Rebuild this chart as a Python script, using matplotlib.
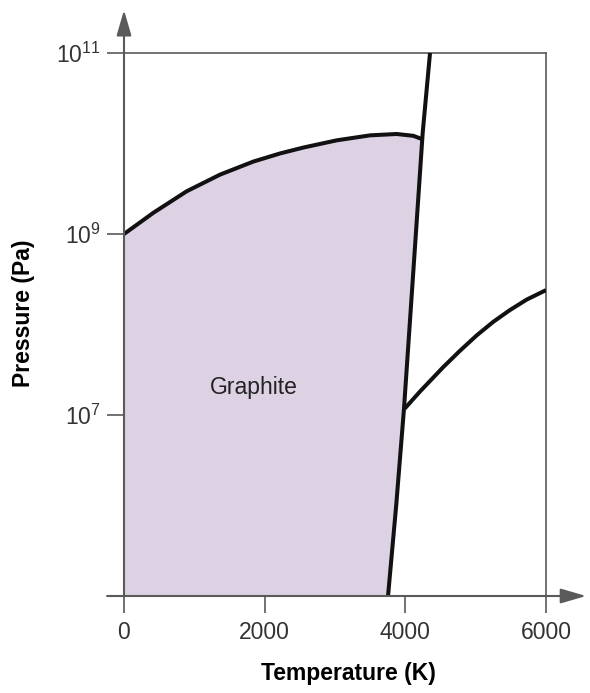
import numpy as np
import matplotlib.pyplot as plt

plt.rcParams['font.family'] = ['Liberation Sans', 'DejaVu Sans']
plt.rcParams['mathtext.fontset'] = 'custom'
plt.rcParams['mathtext.rm'] = 'Liberation Sans'
plt.rcParams['mathtext.it'] = 'Liberation Sans'

# graphite / diamond boundary (log10 of Pa)
gd_temp = [0, 417, 891, 1365, 1838, 2218, 2549, 3024, 3498, 3877, 4113, 4233]
gd_logp = [9.0, 9.234, 9.472, 9.656, 9.80, 9.89, 9.955, 10.035, 10.09, 10.105, 10.085, 10.05]

# solid / liquid boundary
melt_temp = [3754, 3870, 3981, 4113, 4247, 4351]
melt_logp = [5.0, 6.0, 7.07, 8.58, 10.12, 11.0]

# liquid / vapour boundary
lv_temp = [3990, 4209, 4540, 4777, 5015, 5251, 5488, 5725, 6000]
lv_logp = [7.07, 7.26, 7.53, 7.71, 7.88, 8.03, 8.16, 8.275, 8.38]

x_ticks = [0, 2000, 4000, 6000]
y_ticks = [7, 9, 11]
region_label = "Graphite"
label_pos = (1840, 10 ** 7.305)

axis_grey = '#5a5a5a'
fill_col = '#dcd2e4'

fig = plt.figure(figsize=(5.9, 6.93), dpi=100)
ax = fig.add_axes([124 / 590, 97 / 693, 422 / 590, 543 / 693])
ax.set_yscale('log')
ax.set_xlim(0, 6000)
ax.set_ylim(1e5, 1e11)

gd_p = 10 ** np.array(gd_logp)
melt_p = 10 ** np.array(melt_logp)
lv_p = 10 ** np.array(lv_logp)

# filled graphite region: y axis -> upper curve -> melting line -> bottom
upper_idx = [i for i, p in enumerate(melt_logp) if p < gd_logp[-1]]
fill_t = [0] + gd_temp + [melt_temp[i] for i in reversed(upper_idx)]
fill_p = [1e5] + list(gd_p) + [melt_p[i] for i in reversed(upper_idx)]
ax.fill(fill_t, fill_p, color=fill_col, lw=0, zorder=1)

line_kw = dict(color='#111111', lw=2.9, solid_capstyle='butt',
               solid_joinstyle='round', zorder=3)
ax.plot(gd_temp, gd_p, **line_kw)
ax.plot(melt_temp, melt_p, clip_on=False, **line_kw)
ax.plot(lv_temp, lv_p, **line_kw)

ax.text(label_pos[0], label_pos[1], region_label, ha='center', va='center',
        fontsize=16.5, color='#222222')

# frame: grey top / right lines, arrowed left / bottom axes
for side in ['top', 'right']:
    ax.spines[side].set_color(axis_grey)
    ax.spines[side].set_linewidth(1.2)
for side in ['left', 'bottom']:
    ax.spines[side].set_visible(False)

arrow = dict(arrowstyle='-|>,head_length=1.2,head_width=0.35', color=axis_grey,
             lw=1.5, mutation_scale=13, shrinkA=0, shrinkB=0)
ax.annotate('', xy=(0, 1.079), xytext=(0, -0.0015), xycoords='axes fraction',
            arrowprops=arrow)
ax.annotate('', xy=(1.095, 0), xytext=(-0.04, 0), xycoords='axes fraction',
            arrowprops=arrow)

ax.set_xticks(x_ticks)
ax.set_xticklabels([str(t) for t in x_ticks])
ax.set_yticks([10.0 ** e for e in y_ticks])
ax.set_yticklabels([r'$\mathregular{10^{%d}}$' % e for e in y_ticks])
ax.minorticks_off()
ax.tick_params(direction='out', length=12, width=1.2, color=axis_grey,
               labelsize=16.5, labelcolor='#333333')
ax.tick_params(axis='x', pad=6)
ax.tick_params(axis='y', pad=5)

ax.set_xlabel('Temperature (K)', fontsize=16.5, fontweight='bold', va='center')
ax.xaxis.set_label_coords(0.531, -0.142)
ax.set_ylabel('Pressure (Pa)', fontsize=16.5, fontweight='bold', va='center')
ax.yaxis.set_label_coords(-0.239, 0.521)

fig.savefig('out.png', dpi=100, facecolor='white')
